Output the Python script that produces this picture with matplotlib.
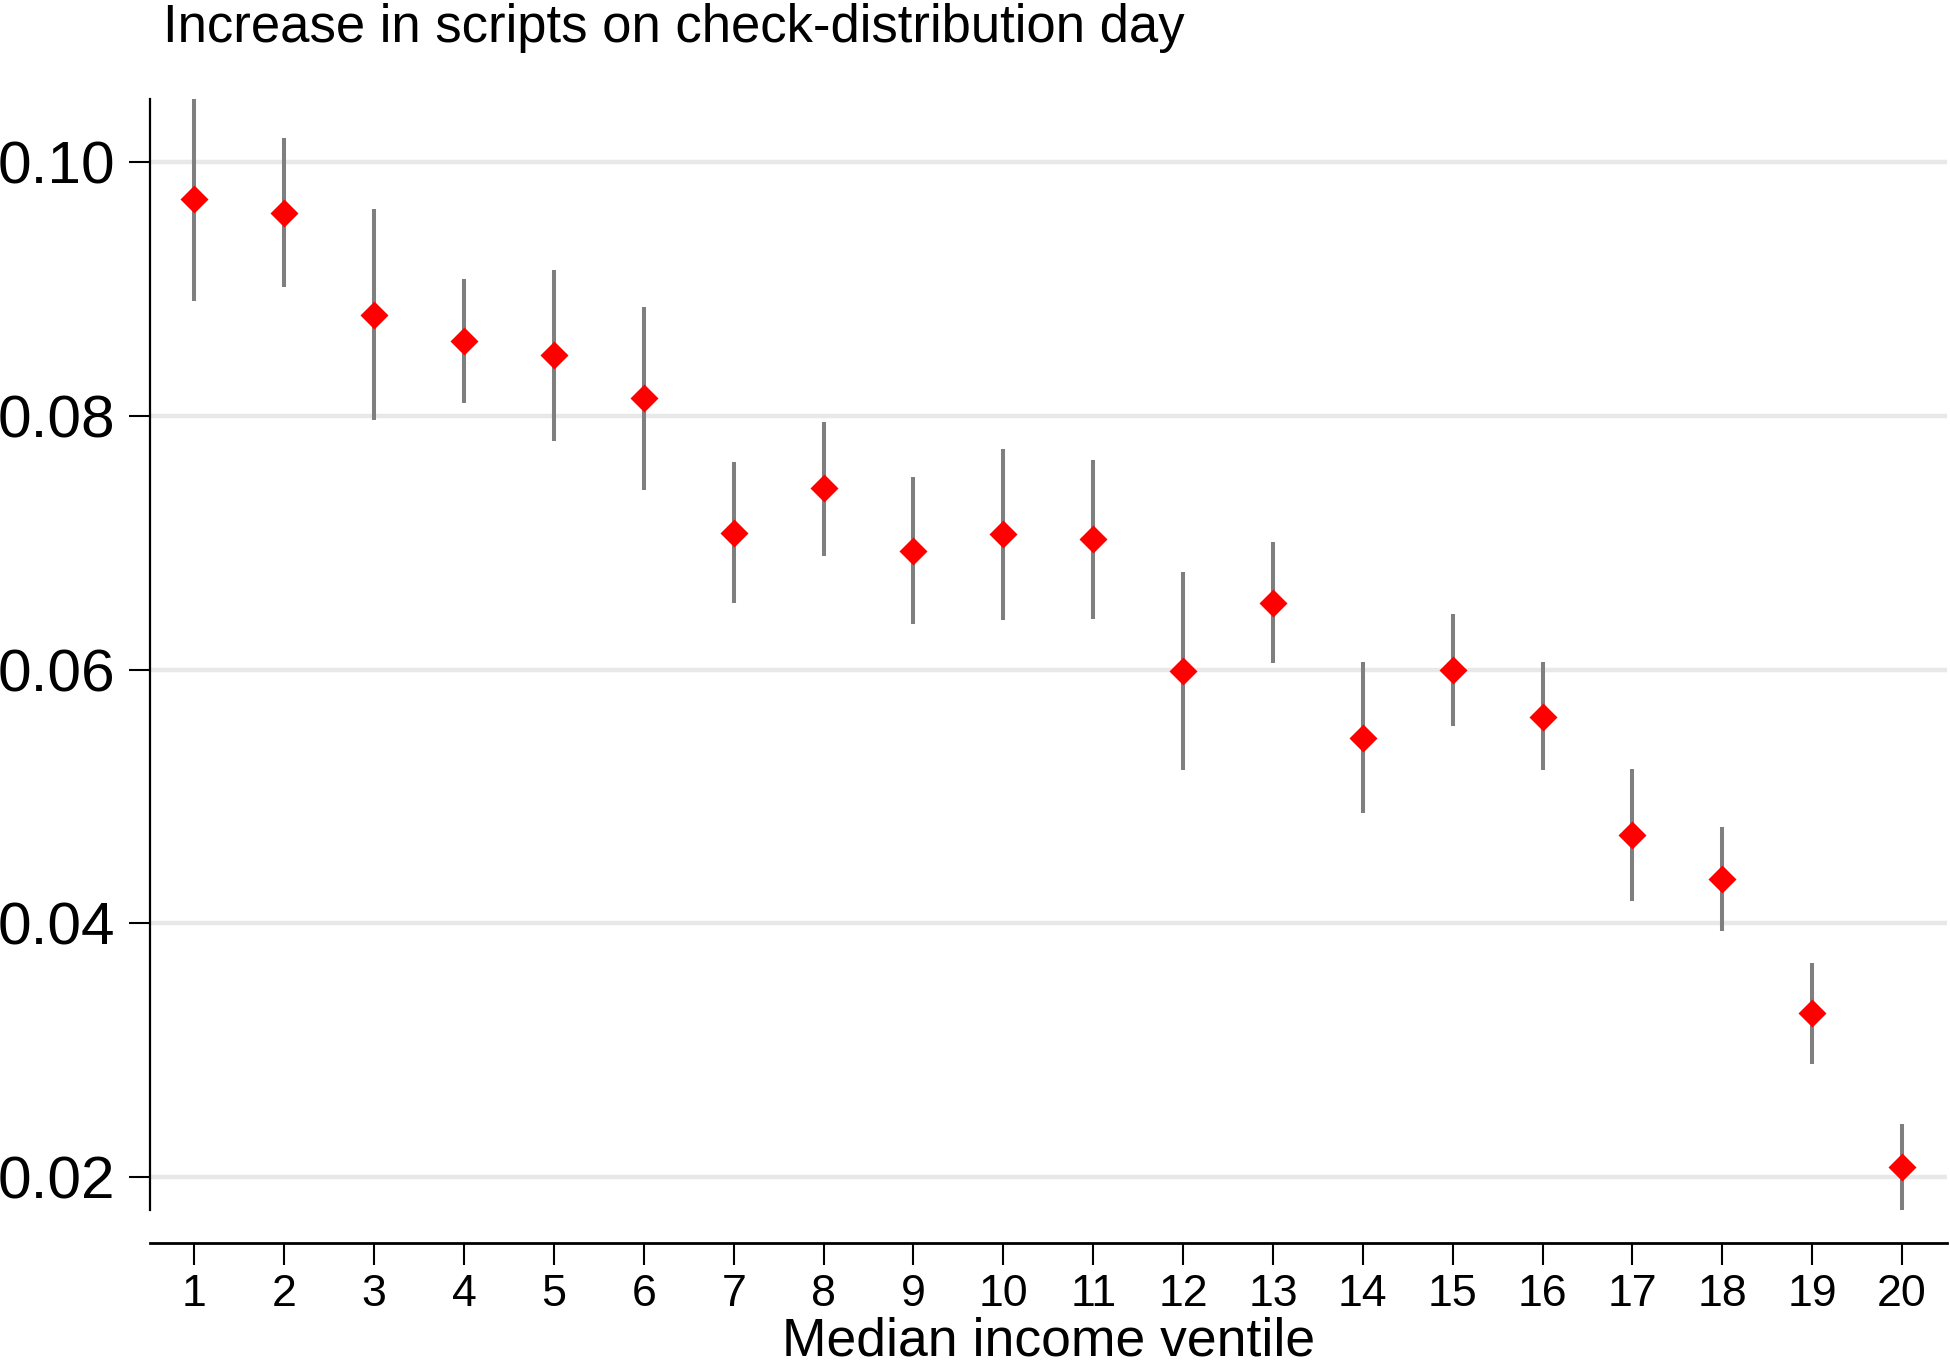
import matplotlib
matplotlib.use("Agg")
import matplotlib.pyplot as plt
import numpy as np

plt.rcParams['font.family'] = ['Liberation Sans', 'DejaVu Sans']

ventiles = list(range(1, 21))
estimate = [0.0971, 0.0960, 0.0880, 0.0859, 0.0848, 0.0814, 0.0708, 0.0743, 0.0694, 0.0707,
            0.0703, 0.0599, 0.0653, 0.0546, 0.0600, 0.0563, 0.0470, 0.0435, 0.0329, 0.0208]
ci_low = [0.0891, 0.0902, 0.0797, 0.0810, 0.0780, 0.0742, 0.0653, 0.0690, 0.0636, 0.0639,
          0.0640, 0.0521, 0.0605, 0.0487, 0.0556, 0.0521, 0.0418, 0.0394, 0.0289, 0.0174]
ci_high = [0.1050, 0.1019, 0.0963, 0.0908, 0.0915, 0.0886, 0.0764, 0.0795, 0.0752, 0.0774,
           0.0765, 0.0677, 0.0701, 0.0606, 0.0644, 0.0606, 0.0522, 0.0476, 0.0369, 0.0242]
yticks = [0.02, 0.04, 0.06, 0.08, 0.10]
ytick_labels = ["0.02", "0.04", "0.06", "0.08", "0.10"]
title = "Increase in scripts on check-distribution day"
xlabel = "Median income ventile"

W, H = 1950, 1367
fig = plt.figure(figsize=(W / 100, H / 100), dpi=100)
left, right, top, bottom = 149.5, 1947, 99, 1210
ax = fig.add_axes([left / W, 1 - bottom / H, (right - left) / W, (bottom - top) / H])

x = np.array(ventiles)
est = np.array(estimate)
lo = np.array(ci_low)
hi = np.array(ci_high)

ax.vlines(x, lo, hi, color='#7f7f7f', lw=2.9, zorder=3, clip_on=False)
ax.plot(x, est, linestyle='none', marker='D', ms=14.0, mfc='#ff0000', mec='none', zorder=4, clip_on=False)

ax.set_xlim(0.5, 20.5)
ax.set_ylim(0.0174, 0.1050)
ax.set_xticks(ventiles)
ax.set_xticklabels([str(v) for v in ventiles])
ax.set_yticks(yticks)
ax.set_yticklabels(ytick_labels)

for yv in yticks:
    ax.axhline(yv, color='#e8e8e8', lw=3.2, zorder=1)

for s in ['top', 'right']:
    ax.spines[s].set_visible(False)
ax.spines['left'].set_linewidth(1.6)
ax.spines['bottom'].set_linewidth(2.0)
ax.spines['bottom'].set_position(('outward', 24))

ax.tick_params(axis='y', length=15, width=1.5, pad=9.5, labelsize=43.5)
ax.tick_params(axis='x', length=15.5, width=1.5, pad=6.5, labelsize=32.2)

ax.set_xlabel(xlabel, fontsize=38.5, labelpad=1)
fig.text(162.7 / W, 1 - 41.7 / H, title, fontsize=37.9, ha='left', va='baseline')

fig.savefig("out.png", dpi=100, facecolor='white')
